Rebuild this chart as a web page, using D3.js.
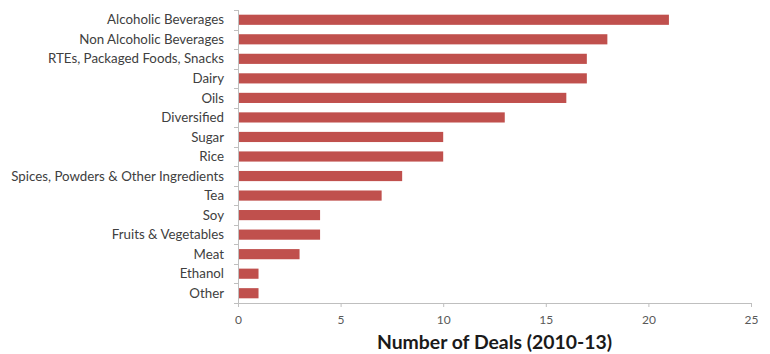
<!DOCTYPE html>
<html>
<head>
<meta charset="utf-8">
<script src="https://cdn.jsdelivr.net/npm/d3@7"></script>
<style>
  html, body { margin: 0; padding: 0; background: #fff; }
  svg { display: block; }
  text { font-family: Lato, "Open Sans", sans-serif; }
</style>
</head>
<body>
<svg id="chart" width="770" height="354"></svg>
<script>
// Deal counts by food & beverage sub-sector
const categories = [
  "Alcoholic Beverages",
  "Non Alcoholic Beverages",
  "RTEs, Packaged Foods, Snacks",
  "Dairy",
  "Oils",
  "Diversified",
  "Sugar",
  "Rice",
  "Spices, Powders & Other Ingredients",
  "Tea",
  "Soy",
  "Fruits & Vegetables",
  "Meat",
  "Ethanol",
  "Other"
];
const deals = [21, 18, 17, 17, 16, 13, 10, 10, 8, 7, 4, 4, 3, 1, 1];
const xTicks = [0, 5, 10, 15, 20, 25];
const xTitle = "Number of Deals (2010-13)";

const svg = d3.select("#chart");
const margin = { top: 10, right: 19, bottom: 51, left: 238 };
const width = 770 - margin.left - margin.right;
const height = 354 - margin.top - margin.bottom;

const g = svg.append("g").attr("transform", `translate(${margin.left},${margin.top})`);

const x = d3.scaleLinear().domain([0, 25]).range([0, width]);
const y = d3.scaleBand().domain(categories).range([0, height]).paddingInner(0.48).paddingOuter(0.24);

const axisColor = "#bfbfbf";
const labelColor = "#404040";

// Bars
g.selectAll("rect.bar")
  .data(categories.map((c, i) => ({ c, v: deals[i] })))
  .join("rect")
  .attr("class", "bar")
  .attr("x", x(0))
  .attr("y", d => y(d.c))
  .attr("width", d => x(d.v) - x(0))
  .attr("height", y.bandwidth())
  .attr("fill", "#c0504d");

// Category axis: ticks sit on band boundaries
const yAxis = g.append("g");
yAxis.append("line")
  .attr("x1", 0.5).attr("x2", 0.5)
  .attr("y1", 0).attr("y2", height)
  .attr("stroke", axisColor);
yAxis.selectAll("line.tick")
  .data(d3.range(categories.length + 1))
  .join("line")
  .attr("class", "tick")
  .attr("x1", -4).attr("x2", 0.5)
  .attr("y1", i => Math.round(i * height / categories.length) + 0.5)
  .attr("y2", i => Math.round(i * height / categories.length) + 0.5)
  .attr("stroke", axisColor);
yAxis.selectAll("text")
  .data(categories)
  .join("text")
  .attr("x", -14)
  .attr("y", c => y(c) + y.bandwidth() / 2)
  .attr("dy", "0.35em")
  .attr("text-anchor", "end")
  .attr("font-size", 13.3)
  .attr("fill", labelColor)
  .text(c => c);

// Value axis
const xAxis = g.append("g")
  .attr("transform", `translate(0,${height})`)
  .call(d3.axisBottom(x).tickValues(xTicks).tickSize(4).tickPadding(8));
xAxis.select(".domain").attr("stroke", axisColor);
xAxis.selectAll(".tick line").attr("stroke", axisColor);
xAxis.selectAll(".tick text")
  .attr("font-size", 12)
  .attr("fill", "#595959")
  .style("font-family", "Lato, sans-serif");

// Axis title
g.append("text")
  .attr("x", width / 2)
  .attr("y", height + 46)
  .attr("text-anchor", "middle")
  .attr("font-size", 19.4)
  .attr("font-weight", "bold")
  .attr("fill", "#1a1a1a")
  .text(xTitle);
</script>
</body>
</html>
